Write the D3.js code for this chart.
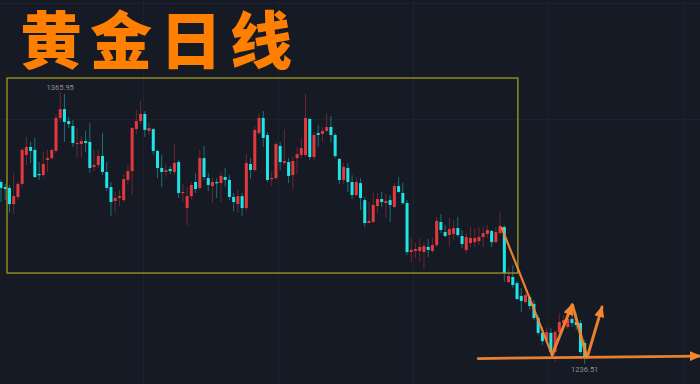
<!DOCTYPE html>
<html>
<head>
<meta charset="utf-8">
<script src="https://cdn.jsdelivr.net/npm/d3@7/dist/d3.min.js"></script>
<style>
  html, body { margin: 0; padding: 0; background: #161a25; }
  svg { display: block; }
</style>
</head>
<body>
<svg id="chart" width="700" height="384"></svg>
<script>
// Gold daily candles (oldest first)
const opens = [
  1323.1,1320.7,1320.3,1312.6,1316.0,1322.2,1336.0,1339.8,1338.4,1326.9,
  1326.4,1333.6,1334.5,1337.9,1353.6,1357.8,1352.1,1349.8,1341.2,1341.2,
  1342.6,1342.2,1330.3,1331.2,1335.5,1327.9,1320.7,1314.1,1315.5,1314.5,
  1324.1,1328.3,1348.3,1352.1,1355.5,1347.4,1348.3,1337.9,1329.8,1327.9,
  1329.3,1327.9,1332.6,1317.9,1310.7,1316.4,1323.1,1320.3,1334.5,1325.0,
  1321.2,1323.1,1322.6,1325.5,1324.1,1316.0,1312.6,1316.4,1310.7,1331.7,
  1328.8,1346.4,1353.6,1345.5,1324.5,1325.0,1340.3,1332.2,1332.6,1326.4,
  1334.5,1336.0,1336.0,1353.1,1335.0,1346.4,1346.0,1347.4,1349.3,1345.5,
  1334.1,1324.1,1329.8,1323.1,1316.9,1322.6,1314.5,1303.6,1304.1,1311.7,
  1315.0,1313.1,1314.5,1311.2,1321.2,1317.9,1313.1,1289.8,1290.3,1290.3,
  1289.8,1292.2,1290.3,1293.1,1304.1,1299.3,1297.9,1298.4,1301.2,1297.4,
  1290.8,1294.1,1294.5,1295.0,1296.9,1298.4,1299.8,1294.5,1298.8,1301.7,
  1275.5,1277.9,1275.0,1268.9,1266.0,1268.4,1265.1,1258.4,1251.3,1247.9,
  1251.3,1242.2,1251.7,1256.0,1254.1,1257.9,1256.5,1256.0,1246.5
];
const highs = [
  1324.1,1322.2,1321.7,1327.4,1323.1,1339.3,1344.5,1342.2,1344.1,1332.6,
  1337.4,1338.4,1339.3,1355.5,1365.95,1365.0,1354.0,1352.6,1348.8,1345.0,
  1347.4,1351.2,1338.4,1338.4,1346.4,1332.6,1323.1,1318.4,1319.3,1326.9,
  1331.2,1349.3,1357.4,1361.7,1356.9,1351.7,1348.8,1338.4,1336.0,1331.7,
  1330.7,1341.2,1333.6,1322.2,1320.7,1323.1,1327.4,1338.4,1340.3,1327.4,
  1325.0,1325.0,1327.9,1329.8,1326.4,1317.9,1319.3,1317.9,1336.4,1334.5,
  1349.8,1355.9,1356.9,1346.9,1328.3,1342.2,1342.2,1348.3,1334.5,1335.0,
  1339.8,1344.1,1365.0,1353.6,1346.9,1350.2,1349.3,1355.9,1354.5,1346.4,
  1334.5,1332.2,1332.2,1326.4,1325.5,1325.0,1316.0,1313.6,1317.9,1317.9,
  1318.4,1317.4,1316.9,1322.6,1325.5,1322.6,1314.5,1296.9,1294.1,1296.0,
  1294.5,1296.0,1296.5,1306.5,1307.9,1302.6,1306.0,1305.0,1306.5,1300.3,
  1298.8,1301.7,1301.2,1301.7,1301.7,1302.6,1300.3,1301.7,1308.8,1302.6,
  1282.6,1283.6,1276.0,1272.7,1270.3,1269.3,1267.0,1259.8,1254.1,1254.1,
  1253.6,1252.7,1260.8,1259.8,1259.3,1259.3,1260.8,1257.4,1247.9
];
const lows = [
  1313.6,1314.5,1308.4,1307.9,1314.5,1320.7,1331.2,1332.2,1325.0,1324.1,
  1325.5,1327.9,1333.6,1336.9,1351.7,1342.2,1348.8,1339.8,1334.5,1335.0,
  1337.4,1327.4,1328.3,1329.8,1326.4,1318.8,1306.9,1308.4,1311.7,1313.6,
  1321.7,1316.9,1346.0,1350.7,1344.5,1345.5,1336.0,1325.0,1320.7,1325.5,
  1326.9,1326.4,1315.5,1313.6,1302.6,1315.0,1317.9,1319.3,1324.1,1318.8,
  1313.1,1315.5,1313.6,1320.7,1314.5,1309.3,1308.4,1306.9,1309.3,1324.5,
  1327.9,1345.5,1339.8,1323.1,1321.2,1324.1,1328.8,1331.2,1322.6,1319.8,
  1326.9,1334.5,1335.0,1333.6,1333.6,1339.8,1342.2,1346.9,1341.7,1334.5,
  1322.2,1322.2,1318.4,1315.0,1316.0,1309.8,1301.7,1303.6,1303.6,1308.4,
  1311.2,1306.0,1304.1,1310.7,1317.9,1312.2,1288.4,1285.0,1286.9,1285.0,
  1281.7,1287.4,1289.3,1292.2,1298.8,1296.9,1292.2,1295.5,1296.9,1291.7,
  1289.3,1292.2,1292.2,1293.1,1292.2,1296.5,1292.2,1294.1,1297.9,1275.5,
  1275.0,1272.7,1267.0,1261.2,1265.5,1262.2,1257.4,1250.3,1245.5,1246.5,
  1240.8,1237.5,1247.9,1252.7,1253.2,1254.1,1252.7,1241.2,1236.51
];
const closes = [
  1320.3,1319.8,1312.6,1316.4,1322.2,1338.4,1339.8,1337.9,1325.5,1326.4,
  1331.7,1334.5,1338.4,1353.6,1357.8,1351.7,1350.7,1341.7,1341.7,1342.6,
  1341.7,1329.8,1331.2,1335.5,1327.9,1320.3,1313.6,1315.5,1316.4,1324.5,
  1328.3,1348.8,1352.1,1355.5,1347.9,1348.8,1337.9,1329.8,1327.9,1328.8,
  1328.3,1332.2,1317.9,1318.4,1316.4,1321.7,1319.8,1334.5,1325.5,1321.7,
  1323.1,1322.6,1326.0,1324.1,1316.0,1313.6,1316.4,1310.7,1332.2,1328.8,
  1347.9,1353.6,1344.1,1324.1,1325.0,1341.2,1332.6,1333.1,1326.0,1333.1,
  1336.4,1339.3,1353.6,1335.0,1345.5,1345.5,1347.4,1349.3,1345.5,1335.5,
  1324.1,1330.3,1323.1,1316.9,1323.1,1315.5,1303.6,1304.6,1312.2,1315.0,
  1313.6,1314.1,1312.2,1321.2,1318.4,1313.1,1289.8,1290.8,1291.2,1292.2,
  1292.6,1290.8,1293.1,1304.6,1300.3,1297.4,1300.7,1301.2,1297.9,1293.6,
  1296.9,1296.5,1296.5,1296.9,1298.8,1300.3,1294.5,1299.3,1302.2,1279.8,
  1278.4,1274.1,1267.4,1266.5,1269.3,1264.1,1258.4,1251.3,1247.4,1251.7,
  1242.2,1251.7,1256.5,1257.4,1257.9,1256.0,1255.0,1242.2,1240.3
];

// Price extremes marked on the chart
const highMark = { index: 14, label: "1365.95" };
const lowMark = { index: 138, label: "1236.51" };

// Highlighted consolidation range: [startIndex, endIndex, topPrice, bottomPrice]
const rangeBox = [1.42, 122.2, 1372.6, 1279.8];

// Hand-drawn W-shaped projection: [index, price]
const waveLine = [[118.4, 1301.2], [130.3, 1240.8]];
const waveUp1 = [[130.3, 1240.8], [135.0, 1264.6]];
const waveDown = [[135.1, 1264.6], [138.5, 1239.8]];
const waveUp2 = [[138.6, 1239.8], [142.1, 1263.6]];
const supportLine = [[112.8, 1239.1], [165.2, 1240.3]];

// Faint period separators (candle index) and price levels
const gridIdx = [33.6, 65.5, 97.4, 129.3, 161.2];
const gridPrice = [1408.3, 1353.1];

const W = 700, H = 384;
const svg = d3.select("#chart");

const n = opens.length;
const x = d3.scaleLinear().domain([0, n - 1]).range([1, 584.7]);
const y = d3.scaleLinear().domain([1236.51, 1365.95]).range([364, 92]);

const UP = "#e0393e", DOWN = "#1fe6e6";
const ORANGE = "#f5862e";

svg.append("rect").attr("width", W).attr("height", H).attr("fill", "#161a25");

// grid
const grid = svg.append("g").attr("stroke", "#1d2230").attr("stroke-width", 1);
grid.selectAll("line.v").data(gridIdx).join("line")
  .attr("x1", d => Math.round(x(d)) + 0.5).attr("x2", d => Math.round(x(d)) + 0.5)
  .attr("y1", 0).attr("y2", H);
grid.selectAll("line.h").data(gridPrice).join("line")
  .attr("x1", 0).attr("x2", W)
  .attr("y1", d => Math.round(y(d)) + 0.5).attr("y2", d => Math.round(y(d)) + 0.5);

// candles
const idx = d3.range(n);
const candles = svg.append("g");
candles.selectAll("line.wick").data(idx).join("line")
  .attr("x1", i => x(i)).attr("x2", i => x(i))
  .attr("y1", i => y(highs[i])).attr("y2", i => y(lows[i]))
  .attr("stroke", i => closes[i] >= opens[i] ? UP : DOWN)
  .attr("stroke-opacity", 0.42)
  .attr("stroke-width", 1);
candles.selectAll("rect.body").data(idx).join("rect")
  .attr("x", i => x(i) - 1.5)
  .attr("width", 3)
  .attr("y", i => y(Math.max(opens[i], closes[i])))
  .attr("height", i => Math.max(1.2, Math.abs(y(opens[i]) - y(closes[i]))))
  .attr("fill", i => closes[i] >= opens[i] ? UP : DOWN);

// high / low labels
const lbl = svg.append("g").attr("font-family", "Roboto, 'DejaVu Sans', sans-serif")
  .attr("font-size", 7.5).attr("fill", "#8d919c").attr("text-anchor", "middle");
lbl.append("text").attr("x", x(highMark.index)).attr("y", y(highs[highMark.index]) - 2)
  .text(highMark.label);
lbl.append("text").attr("x", x(lowMark.index)).attr("y", y(lows[lowMark.index]) + 8)
  .text(lowMark.label);

// consolidation box
svg.append("rect")
  .attr("x", x(rangeBox[0])).attr("y", y(rangeBox[2]))
  .attr("width", x(rangeBox[1]) - x(rangeBox[0]))
  .attr("height", y(rangeBox[3]) - y(rangeBox[2]))
  .attr("fill", "none").attr("stroke", "#a09a22").attr("stroke-width", 1.3);

// arrowheads
const defs = svg.append("defs");
defs.append("marker").attr("id", "head")
  .attr("markerUnits", "userSpaceOnUse")
  .attr("viewBox", "0 0 12 10").attr("refX", 10).attr("refY", 5)
  .attr("markerWidth", 12).attr("markerHeight", 10).attr("orient", "auto")
  .append("path").attr("d", "M0,0 L12,5 L0,10 Z").attr("fill", ORANGE);

const line = d3.line().x(d => x(d[0])).y(d => y(d[1]));
const ann = svg.append("g").attr("fill", "none").attr("stroke", ORANGE)
  .attr("stroke-linecap", "round").attr("stroke-opacity", 0.95);
ann.append("path").attr("d", line(supportLine)).attr("stroke-width", 2.8)
  .attr("marker-end", "url(#head)");
ann.append("path").attr("d", line(waveLine)).attr("stroke-width", 2.2);
ann.append("path").attr("d", line(waveUp1)).attr("stroke-width", 3)
  .attr("marker-end", "url(#head)");
ann.append("path").attr("d", line(waveDown)).attr("stroke-width", 3);
ann.append("path").attr("d", line(waveUp2)).attr("stroke-width", 3)
  .attr("marker-end", "url(#head)");

// title
svg.append("text")
  .attr("x", 20).attr("y", 64)
  .attr("font-family", "'Liberation Sans', 'Noto Sans CJK SC', sans-serif")
  .attr("font-weight", 900).attr("font-size", 62)
  .attr("letter-spacing", 8)
  .attr("fill", "#ff8000")
  .text("黄金日线");
</script>
</body>
</html>
